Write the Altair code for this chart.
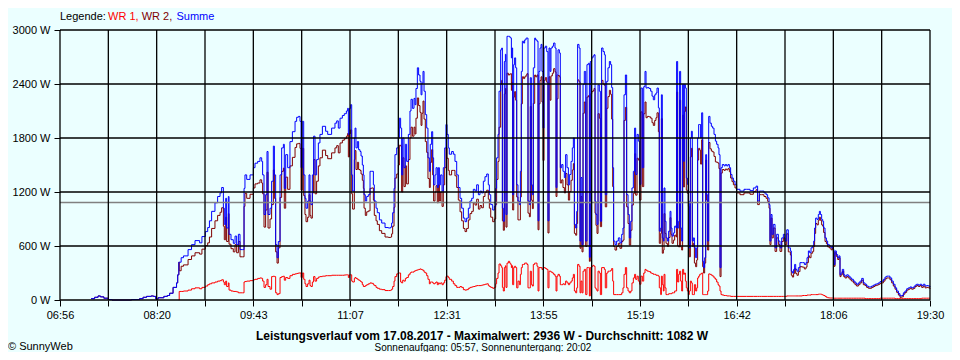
import altair as alt
import pandas as pd

# ---------------- data (minutes since midnight, watts) ----------------
minute = [
    443.0, 446.0, 449.0, 451.0, 454.0, 458.0, 461.0, 477.0, 478.0, 485.0,
    488.0, 491.0, 495.0, 497.0, 499.0, 501.0, 506.0, 509.0, 511.0, 514.0,
    517.0, 518.0, 519.0, 519.3, 521.0, 523.0, 527.0, 530.0, 533.0, 537.0,
    539.0, 542.0, 544.0, 545.5,
    547.4, 550.3, 552.6, 554.7, 556.1, 557.6, 558.4, 559.6, 560.4, 561.9,
    562.5, 564.2, 566.2, 567.7, 569.1, 570.6, 572.0, 574.0, 575.5, 576.3,
    577.8, 580.7, 583.6, 585.0, 587.3, 589.3, 590.8, 591.6, 592.8, 594.2,
    595.4, 596.3, 598.0, 599.4, 600.9, 601.8, 602.9, 604.1, 605.2, 606.7,
    608.1, 609.6, 610.4, 611.6, 613.3, 615.3, 617.4, 619.7, 621.1, 622.6,
    624.0, 624.9, 626.0, 627.2, 628.3, 629.2, 630.6, 631.8, 632.7, 633.5,
    634.7, 635.8, 637.0, 638.4, 639.9, 641.3, 643.4, 646.2, 648.0, 651.4,
    654.3, 655.8, 657.2, 658.7, 660.7, 662.4, 664.2, 665.3, 665.9, 666.8,
    667.9, 668.8, 669.6, 671.1,
    671.7, 672.5, 673.7, 674.8, 676.0, 676.9, 678.0, 678.9, 679.5, 680.6,
    681.8, 683.2, 684.7, 686.1, 687.6, 688.4, 689.9, 691.0, 692.8, 694.8,
    697.7, 700.6, 702.6, 703.4, 704.3, 705.5, 706.3, 707.8, 709.2, 710.1,
    711.2, 712.1, 713.0, 714.1, 715.3, 716.4, 717.9, 719.3, 720.2, 721.4,
    722.8, 723.7, 724.5, 725.7, 726.8, 728.0, 728.9, 729.7, 730.6, 731.5,
    732.6, 733.8, 734.9, 736.1, 736.9, 738.1, 739.0, 739.8, 741.0, 741.9,
    743.0, 743.9, 744.8, 745.9, 747.1, 748.2, 749.4, 750.5, 751.4, 752.5,
    753.4, 755.4, 756.9, 758.3, 759.8, 761.2, 762.7, 764.1, 765.6, 767.0,
    768.4, 769.9, 771.3, 772.8, 774.2, 775.7, 777.1, 778.6, 780.0, 781.4,
    782.9, 784.3, 785.8, 787.2, 788.1, 789.3, 791.0, 792.4, 793.6, 794.4,
    795.6,
    796.5, 797.9, 798.8, 799.4, 800.2, 801.1, 802.0, 802.5, 803.4, 804.6,
    805.7, 806.6, 807.2, 807.7, 808.3, 809.2, 810.0, 810.9, 811.8, 812.9,
    814.1, 815.0, 815.8, 816.7, 817.8, 818.7, 819.9, 820.7, 821.6, 822.8,
    823.6, 824.5, 825.4, 826.2, 827.4, 828.2, 829.4, 830.3, 831.1, 832.0,
    832.9, 833.7, 834.6, 835.5, 836.6, 837.8, 838.9, 839.8, 840.7, 841.5,
    842.7, 843.8, 845.0, 845.9, 846.7, 847.6, 848.8, 849.6, 850.8, 851.9,
    853.1, 854.2, 855.4, 856.6, 857.7, 858.9, 860.0, 860.9, 861.8, 862.9,
    863.8, 864.6, 865.8, 866.7, 867.5, 868.4, 869.3, 870.4, 871.6, 872.7,
    873.9, 874.8, 875.6, 876.8, 877.9, 878.8, 879.7, 880.5, 881.4, 882.3,
    883.4, 884.3, 885.4, 886.6, 887.8, 888.6, 889.8, 890.9, 892.1, 893.2,
    894.1, 895.0, 895.8, 897.0, 898.4, 899.9, 901.3, 902.8, 903.9, 904.8,
    906.0, 907.1, 908.3, 909.4, 910.6, 911.7, 912.9, 914.0, 914.9, 916.1,
    917.2, 918.4, 919.5, 920.7, 921.9,
    923.0, 923.9, 925.0, 926.5, 927.9, 929.1, 930.2, 931.4, 932.5, 933.4,
    934.6, 935.4, 936.6, 937.2, 938.0, 938.9, 939.5, 940.3, 941.2, 942.4,
    943.5, 944.7, 945.5, 946.4, 947.6, 948.7, 949.9, 950.4, 951.3, 952.2,
    953.0, 953.9, 954.8, 955.6, 956.5, 957.1, 958.0, 958.8, 959.7, 960.6,
    961.4, 962.3, 963.2, 964.0, 964.9, 965.8, 966.9, 967.8, 968.6, 969.5,
    970.4, 971.2, 972.1, 973.0, 973.8, 974.7, 975.6, 976.4, 977.3, 978.2,
    979.3, 980.5, 981.6, 982.8, 984.0, 985.1, 986.3, 987.1, 988.0, 988.9,
    990.0, 991.5, 992.6, 993.8, 994.9, 996.1, 997.2, 998.4, 999.6, 1001.0,
    1002.4, 1005.3, 1008.8, 1011.1, 1014.0, 1016.9, 1019.2, 1020.6, 1022.1, 1024.1,
    1026.1, 1027.9, 1029.3, 1030.5, 1031.3, 1032.2, 1033.1, 1034.2, 1035.7, 1037.1,
    1038.6, 1040.0, 1041.5, 1042.9, 1044.3, 1045.8, 1047.2,
    1048.1, 1049.0, 1049.8, 1050.7, 1051.8, 1052.7, 1053.6, 1054.7, 1055.9, 1057.3,
    1059.4, 1061.1, 1062.5, 1063.4, 1064.6, 1065.7, 1066.9, 1068.3, 1069.2, 1070.0,
    1070.9, 1072.1, 1073.2, 1074.1, 1075.0, 1076.1, 1077.0, 1077.8, 1079.0, 1080.2,
    1081.3, 1082.8, 1084.2, 1085.4, 1086.2, 1086.8, 1087.7, 1088.8, 1090.0, 1091.1,
    1092.0, 1092.9, 1094.0, 1095.2, 1096.3, 1097.8, 1099.2, 1100.7, 1102.1, 1103.6,
    1105.0, 1106.4, 1107.9, 1109.3, 1110.8, 1112.2, 1113.7, 1115.1, 1116.6, 1118.0,
    1119.4, 1120.9, 1122.3, 1123.8, 1125.2, 1126.7, 1128.1, 1129.6, 1131.0, 1132.4,
    1133.9, 1135.3, 1136.8, 1138.2, 1139.7, 1141.1, 1142.6, 1144.0, 1145.4, 1146.9,
    1148.3, 1149.8, 1151.2, 1152.7, 1154.1, 1155.6, 1157.0, 1158.4, 1159.9, 1161.3,
    1162.8, 1164.2, 1165.7, 1167.1, 1168.6, 1170.0,
]

summe = [
    15, 30, 45, 35, 20, 5, 0, 0, 5, 15,
    30, 40, 45, 40, 10, 25, 40, 50, 75, 140,
    190, 280, 420, 420, 470, 490, 560, 615, 660, 635,
    705, 760, 805, 880,
    985, 1080, 1150, 1190, 1250, 1020, 840, 1130, 800, 1150,
    730, 670, 630, 710, 615, 730, 560, 560, 1240, 1390,
    1340, 1390, 1470, 1520, 1540, 1580, 1540, 1390, 950, 1170,
    1650, 950, 1020, 1320, 1710, 1390, 615, 470, 650, 1390,
    1690, 1730, 1240, 1615, 1470, 1760, 1870, 1985, 2030, 2040,
    1985, 1470, 1985, 1390, 1130, 1020, 1100, 1390, 1100, 1060,
    1390, 1820, 1390, 1560, 1745, 1840, 1930, 1875, 1840, 1910,
    1965, 1990, 1910, 2020, 2050, 2070, 2100, 2130, 1840, 2130,
    2170, 1390, 1210, 1800,
    1910, 1690, 1760, 1670, 1650, 1600, 1500, 1390, 1170, 1100,
    1150, 1170, 1430, 1430, 1280, 1100, 1020, 970, 890, 855,
    805, 800, 810, 855, 970, 1240, 1615, 1690, 1800, 2020,
    1910, 1390, 1800, 1470, 1730, 1540, 1840, 2100, 2230, 2130,
    2240, 2170, 2350, 2580, 2500, 2430, 2280, 2410, 2540, 2320,
    2060, 1910, 1580, 1430, 1730, 1870, 1580, 1280, 1390, 1470,
    1250, 1470, 1280, 1390, 1210, 1470, 1690, 1950, 1840, 1690,
    1620, 1650, 1620, 1540, 1390, 1250, 1130, 1020, 910, 870,
    910, 1020, 1100, 1130, 1230, 1210, 1280, 1170, 1210, 1190,
    1320, 1370, 1400, 1280, 1170, 1060, 1000, 1040, 1240, 1580,
    1840,
    2320, 2780, 2800, 1020, 875, 2650, 2730, 950, 2930, 2930,
    2920, 2910, 2690, 2800, 1170, 2615, 2690, 2580, 1280, 1100,
    1060, 1430, 2540, 2875, 2855, 2890, 2910, 2910, 1100, 1060,
    2470, 1280, 1170, 2580, 2910, 2890, 2875, 880, 2540, 2800,
    2840, 2540, 1910, 2800, 2820, 2760, 880, 2800, 2540, 2800,
    2820, 2855, 2800, 1250, 2500, 2780, 2745, 1470, 1505, 1430,
    1360, 1615, 1470, 1280, 1395, 1540, 1690, 1800, 840, 800,
    985, 2840, 2800, 655, 1360, 615, 2395, 2540, 655, 2615,
    2630, 475, 2650, 2690, 2710, 2725, 1100, 950, 840, 2390,
    2320, 875, 2800, 2760, 2725, 1170, 2430, 2580, 2650, 2615,
    2360, 1470, 655, 615, 655, 690, 635, 730, 800, 2280,
    2500, 1170, 950, 690, 875, 1245, 1430, 1910, 1395, 1840,
    1765, 1285, 2355, 1470, 2370,
    2540, 2355, 2360, 2350, 2320, 2265, 2225, 2280, 2300, 2355,
    2135, 765, 800, 2280, 690, 655, 1245, 875, 690, 655,
    765, 985, 800, 710, 745, 820, 800, 2650, 800, 875,
    2540, 800, 655, 2395, 1540, 2395, 2355, 1355, 1285, 1100,
    580, 1800, 1875, 655, 690, 580, 470, 580, 1800, 1950,
    1950, 1800, 2080, 430, 360, 470, 1615, 1170, 655, 2040,
    1965, 1930, 1910, 1840, 1765, 1730, 1690, 1615, 360, 1470,
    1505, 1490, 1505, 1490, 1505, 1470, 1395, 1355, 1320, 1285,
    1230, 1210, 1230, 1230, 1215, 1245, 1265, 1100, 1210, 1210,
    1190, 1170, 1135, 1060, 655, 950, 730, 840, 580, 730,
    655, 580, 690, 730, 655, 780, 580,
    580, 545, 320, 300, 340, 395, 340, 320, 360, 415,
    415, 395, 415, 470, 545, 525, 580, 600, 655, 800,
    910, 895, 950, 985, 950, 895, 875, 800, 690, 655,
    615, 600, 580, 600, 560, 395, 545, 505, 470, 490,
    280, 300, 340, 280, 265, 280, 265, 245, 230, 210,
    190, 175, 190, 210, 240, 190, 175, 155, 145, 145,
    155, 165, 175, 180, 190, 205, 210, 230, 255, 265,
    265, 245, 210, 175, 135, 100, 70, 45, 50, 80,
    100, 125, 135, 145, 135, 145, 165, 175, 165, 175,
    160, 175, 155, 160, 155, 145,
]

wr1 = [
    None, None, None, None, None, None, None, None, None, None,
    None, None, None, None, None, None, None, None, None, None,
    None, None, 0, 95, 95, 100, 110, 125, 135, 125,
    140, 155, 170, 180,
    190, 200, 210, 215, 225, 200, 170, 210, 150, 190,
    110, 100, 95, 95, 90, 80, 80, 80, 200, 205,
    210, 215, 225, 230, 240, 245, 240, 210, 140, 170,
    230, 150, 120, 260, 265, 260, 80, 60, 70, 250,
    260, 265, 220, 250, 240, 270, 285, 290, 295, 300,
    300, 250, 300, 230, 180, 150, 180, 220, 160, 150,
    200, 260, 210, 240, 255, 260, 265, 270, 270, 275,
    275, 275, 275, 275, 275, 278, 280, 280, 250, 280,
    280, 210, 200, 240,
    250, 240, 230, 220, 210, 200, 170, 150, 150, 160,
    170, 180, 190, 185, 170, 160, 140, 130, 120, 115,
    105, 105, 110, 120, 150, 210, 260, 290, 300, 300,
    200, 190, 220, 210, 240, 250, 280, 300, 310, 310,
    320, 325, 330, 335, 340, 345, 340, 335, 330, 310,
    300, 270, 230, 180, 200, 200, 190, 180, 190, 200,
    170, 190, 180, 190, 170, 190, 220, 260, 265, 250,
    230, 210, 180, 160, 140, 140, 150, 140, 115, 110,
    115, 130, 140, 145, 150, 155, 160, 160, 160, 165,
    170, 175, 180, 160, 150, 140, 130, 140, 180, 240,
    300,
    400, 380, 360, 140, 100, 360, 380, 140, 410, 430,
    410, 395, 360, 380, 170, 360, 375, 360, 135, 210,
    170, 285, 360, 395, 395, 410, 410, 395, 135, 135,
    320, 170, 155, 395, 410, 410, 375, 100, 360, 360,
    360, 340, 360, 360, 350, 340, 135, 320, 320, 310,
    300, 285, 265, 100, 265, 285, 265, 170, 170, 180,
    170, 210, 190, 170, 190, 210, 245, 285, 100, 80,
    135, 395, 375, 80, 210, 80, 320, 340, 60, 360,
    360, 45, 360, 375, 385, 375, 135, 120, 100, 320,
    300, 60, 360, 360, 340, 135, 300, 320, 320, 330,
    350, 210, 60, 60, 60, 60, 60, 80, 135, 285,
    360, 135, 100, 80, 100, 190, 245, 285, 230, 265,
    210, 175, 265, 210, 300,
    340, 330, 320, 315, 300, 295, 285, 285, 275, 275,
    265, 135, 60, 265, 170, 100, 285, 135, 60, 60,
    70, 70, 70, 80, 80, 100, 100, 340, 200, 285,
    320, 210, 100, 340, 285, 300, 210, 135, 100, 60,
    100, 210, 190, 60, 60, 170, 100, 135, 245, 265,
    285, 290, 300, 60, 60, 60, 60, 60, 100, 290,
    285, 275, 265, 245, 230, 200, 170, 155, 100, 60,
    55, 50, 50, 45, 45, 45, 40, 40, 40, 40,
    40, 40, 40, 40, 40, 40, 40, 40, 40, 40,
    40, 40, 40, 40, 40, 40, 40, 40, 40, 40,
    40, 40, 40, 40, 40, 45, 45,
    45, 45, 45, 45, 45, 45, 45, 45, 45, 45,
    50, 50, 50, 55, 55, 55, 60, 60, 60, 60,
    60, 60, 65, 65, 65, 60, 55, 50, 40, 30,
    25, 22, 22, 22, 20, 20, 20, 20, 20, 20,
    20, 20, 20, 20, 20, 20, 20, 20, 20, 20,
    20, 20, 20, 20, 20, 20, 15, 15, 15, 15,
    15, 15, 15, 15, 15, 20, 20, 20, 20, 20,
    20, 20, 20, 20, 15, 15, 15, 15, 15, 15,
    15, 15, 15, 15, 15, 15, 15, 15, 15, 15,
    20, 20, 20, 20, 20, 20,
]

wr2 = [
    15, 30, 45, 35, 20, 5, 0, 0, 5, 15,
    30, 40, 45, 40, 10, 25, 40, 50, 75, 140,
    190, 280, 420, 325, 375, 390, 450, 490, 525, 510,
    565, 605, 635, 700,
    795, 880, 940, 975, 1025, 820, 670, 920, 650, 960,
    620, 570, 535, 615, 525, 650, 480, 480, 1040, 1185,
    1130, 1175, 1245, 1290, 1300, 1335, 1300, 1180, 810, 1000,
    1420, 800, 900, 1060, 1445, 1130, 535, 410, 580, 1140,
    1430, 1465, 1020, 1365, 1230, 1490, 1585, 1695, 1735, 1740,
    1685, 1220, 1685, 1160, 950, 870, 920, 1170, 940, 910,
    1190, 1560, 1180, 1320, 1490, 1580, 1665, 1605, 1570, 1635,
    1690, 1715, 1635, 1745, 1775, 1792, 1820, 1850, 1590, 1850,
    1890, 1180, 1010, 1560,
    1660, 1450, 1530, 1450, 1440, 1400, 1330, 1240, 1020, 940,
    980, 990, 1240, 1245, 1110, 940, 880, 840, 770, 740,
    700, 695, 700, 735, 820, 1030, 1355, 1400, 1500, 1720,
    1710, 1200, 1580, 1260, 1490, 1290, 1560, 1800, 1920, 1820,
    1920, 1845, 2020, 2245, 2160, 2085, 1940, 2075, 2210, 2010,
    1760, 1640, 1350, 1250, 1530, 1670, 1390, 1100, 1200, 1270,
    1080, 1280, 1100, 1200, 1040, 1280, 1470, 1690, 1575, 1440,
    1390, 1440, 1440, 1380, 1250, 1110, 980, 880, 795, 760,
    795, 890, 960, 985, 1080, 1055, 1120, 1010, 1050, 1025,
    1150, 1195, 1220, 1120, 1020, 920, 870, 900, 1060, 1340,
    1540,
    1920, 2400, 2440, 880, 775, 2290, 2350, 810, 2520, 2500,
    2510, 2515, 2330, 2420, 1000, 2255, 2315, 2220, 1145, 890,
    890, 1145, 2180, 2480, 2460, 2480, 2500, 2515, 965, 925,
    2150, 1110, 1015, 2185, 2500, 2480, 2500, 780, 2180, 2440,
    2480, 2200, 1550, 2440, 2470, 2420, 745, 2480, 2220, 2490,
    2520, 2570, 2535, 1150, 2235, 2495, 2480, 1300, 1335, 1250,
    1190, 1405, 1280, 1110, 1205, 1330, 1445, 1515, 740, 720,
    850, 2445, 2425, 575, 1150, 535, 2075, 2200, 595, 2255,
    2270, 430, 2290, 2315, 2325, 2350, 965, 830, 740, 2070,
    2020, 815, 2440, 2400, 2385, 1035, 2130, 2260, 2330, 2285,
    2010, 1260, 595, 555, 595, 630, 575, 650, 665, 1995,
    2140, 1035, 850, 610, 775, 1055, 1185, 1625, 1165, 1575,
    1555, 1110, 2090, 1260, 2070,
    2200, 2025, 2040, 2035, 2020, 1970, 1940, 1995, 2025, 2080,
    1870, 630, 740, 2015, 520, 555, 960, 740, 630, 595,
    695, 915, 730, 630, 665, 720, 700, 2310, 600, 590,
    2220, 590, 555, 2055, 1255, 2095, 2145, 1220, 1185, 1040,
    480, 1590, 1685, 595, 630, 410, 370, 445, 1555, 1685,
    1665, 1510, 1780, 370, 300, 410, 1555, 1110, 555, 1750,
    1680, 1655, 1645, 1595, 1535, 1530, 1520, 1460, 260, 1410,
    1450, 1440, 1455, 1445, 1460, 1425, 1355, 1315, 1280, 1245,
    1190, 1170, 1190, 1190, 1175, 1205, 1225, 1060, 1170, 1170,
    1150, 1130, 1095, 1020, 615, 910, 690, 800, 540, 690,
    615, 540, 650, 690, 615, 735, 535,
    535, 500, 275, 255, 295, 350, 295, 275, 315, 370,
    365, 345, 365, 415, 490, 470, 520, 540, 595, 740,
    850, 835, 885, 920, 885, 835, 820, 750, 650, 625,
    590, 578, 558, 578, 540, 375, 525, 485, 450, 470,
    260, 280, 320, 260, 245, 260, 245, 225, 210, 190,
    170, 155, 170, 190, 220, 170, 160, 140, 130, 130,
    140, 150, 160, 165, 175, 185, 190, 210, 235, 245,
    245, 225, 190, 155, 120, 85, 55, 30, 35, 65,
    85, 110, 120, 130, 120, 130, 150, 160, 150, 160,
    140, 155, 135, 140, 135, 125,
]

x_tick_labels = ["06:56", "", "08:20", "", "09:43", "", "11:07", "", "12:31", "",
                 "13:55", "", "15:19", "", "16:42", "", "18:06", "", "19:30"]
y_ticks = [0, 600, 1200, 1800, 2400, 3000]
durchschnitt = 1082
t_start, t_end = 416, 1170  # 06:56 .. 19:30

series_names = ["WR 1", "WR 2", "Summe"]
series_colors = ["#FF0000", "#800000", "#0000FF"]

# ---------------- build table ----------------
rows = []
for t, s, r, d in zip(minute, summe, wr1, wr2):
    if r is not None:
        rows.append({"t": t, "W": r, "serie": "WR 1"})
    rows.append({"t": t, "W": d, "serie": "WR 2"})
    rows.append({"t": t, "W": s, "serie": "Summe"})
df = pd.DataFrame(rows)

n_int = len(x_tick_labels) - 1
step = (t_end - t_start) / n_int
x_ticks = [t_start + i * step for i in range(n_int + 1)]
label_array = "[" + ",".join("'" + l + "'" for l in x_tick_labels) + "]"

FONT = "Liberation Sans"
x_scale = alt.Scale(domain=[t_start, t_end], nice=False, zero=False)
y_scale = alt.Scale(domain=[0, 3000], nice=False, zero=True)

x_axis = alt.Axis(values=x_ticks, title=None, domain=False, grid=False,
                  labelExpr=f"{label_array}[round((datum.value-{t_start})/{step})]",
                  tickColor="black", tickSize=6, tickWidth=1,
                  labelFont=FONT, labelFontSize=11, labelColor="black",
                  labelPadding=3, labelOverlap=False, labelFlush=False)
y_axis = alt.Axis(values=y_ticks, title=None, domain=False, grid=False,
                  labelExpr="datum.value + ' W'",
                  tickColor="black", tickSize=6, tickWidth=1,
                  labelFont=FONT, labelFontSize=11, labelColor="black",
                  labelPadding=4)

X = lambda f: alt.X(f, scale=x_scale, axis=x_axis)
Y = lambda f: alt.Y(f, scale=y_scale, axis=y_axis)

layers = []
for name, col in zip(series_names, series_colors):
    layers.append(
        alt.Chart(df).transform_filter(alt.datum.serie == name)
        .mark_line(interpolate="step-after", strokeWidth=1, color=col)
        .encode(x=X("t:Q"), y=Y("W:Q"))
    )

avg_rule = alt.Chart(pd.DataFrame({"W": [durchschnitt]})).mark_rule(
    color="#808080", strokeWidth=1.5).encode(y=Y("W:Q"))
h_grid = alt.Chart(pd.DataFrame({"W": y_ticks})).mark_rule(
    color="black", strokeWidth=1.3).encode(y=Y("W:Q"))
v_grid = alt.Chart(pd.DataFrame({"t": x_ticks})).mark_rule(
    color="black", strokeWidth=1.3).encode(x=X("t:Q"))


def text(s, x, y, color="black", size=11, weight="normal", align="left"):
    return alt.Chart(pd.DataFrame({"s": [s]})).mark_text(
        align=align, baseline="middle", font=FONT, fontSize=size,
        fontWeight=weight, color=color
    ).encode(x=alt.value(x), y=alt.value(y), text="s:N")


texts = [
    text("Legende:", 0, -13.5),
    text("WR 1,", 48, -13.5, color=series_colors[0]),
    text("WR 2,", 81.7, -13.5, color=series_colors[1]),
    text("Summe", 116.5, -13.5, color=series_colors[2]),
    text("Leistungsverlauf vom 17.08.2017 - Maximalwert: 2936 W - Durchschnitt: 1082 W",
         422, 305.5, size=12, weight="bold", align="center"),
    text("Sonnenaufgang: 05:57, Sonnenuntergang: 20:02", 423, 317.5, size=10,
         align="center"),
    text("© SunnyWeb", -52, 317),
]

chart = alt.layer(*layers, avg_rule, h_grid, v_grid, *texts).properties(
    width=870, height=270,
    background="#EBFFFF",
    padding={"left": 52, "top": 22, "right": 22, "bottom": 52},
    autosize=alt.AutoSizeParams(type="none"),
).configure_view(stroke=None)

chart.save("out.html", embed_options={"renderer": "svg", "actions": False})
